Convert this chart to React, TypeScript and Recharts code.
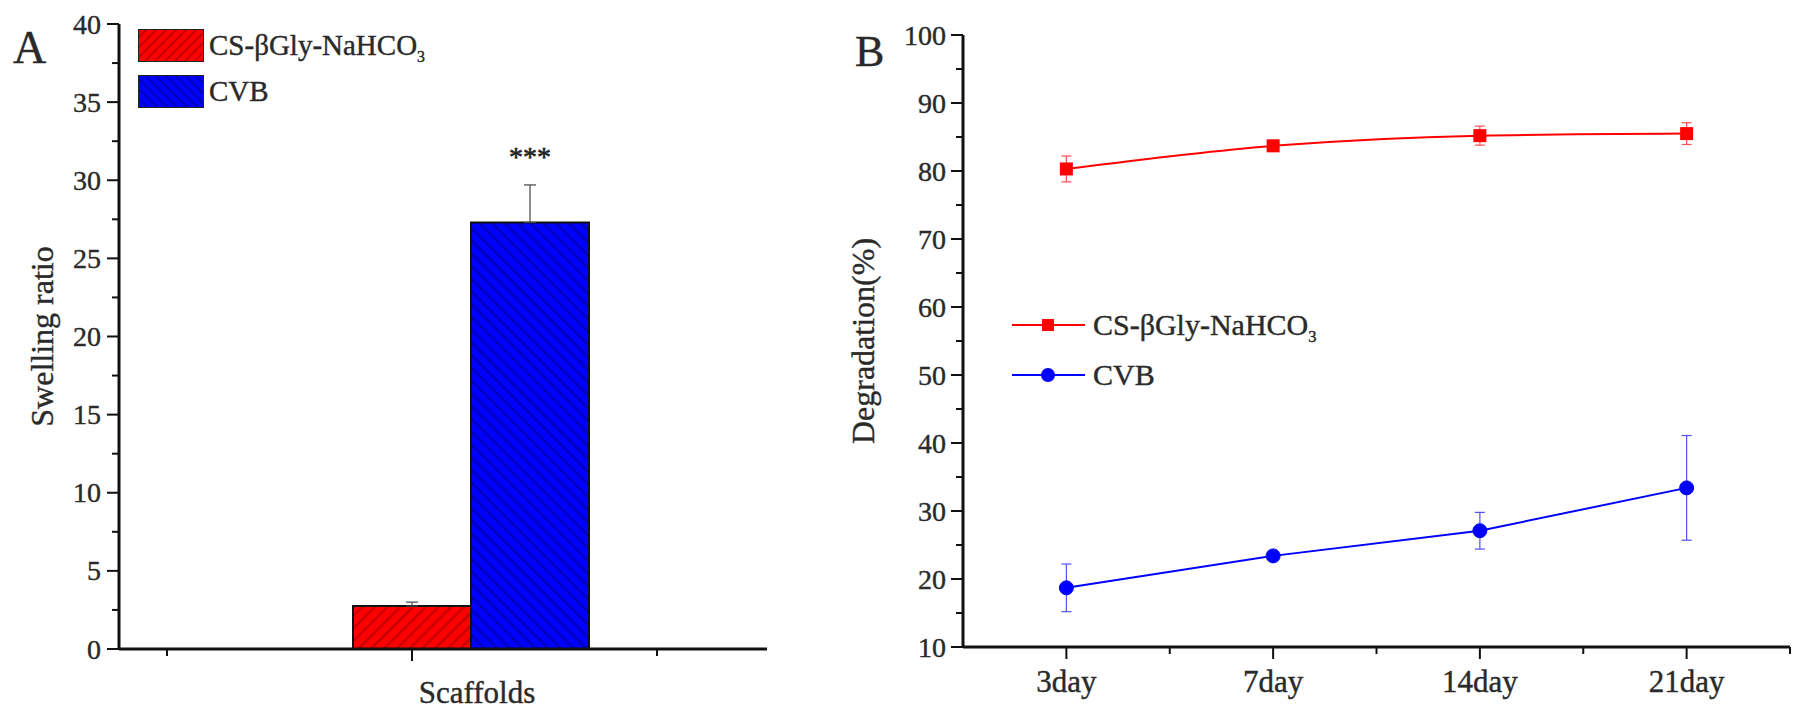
import React from 'react';
import {
  BarChart,
  Bar,
  XAxis,
  YAxis,
  ErrorBar,
  LabelList,
  Legend,
  LineChart,
  Line,
} from 'recharts';

// ---------- Panel A data ----------
const scaffoldCategories = ['Scaffolds'];
const swellingCS = [2.75];
const swellingCSErr = [0.25];
const swellingCVB = [27.3];
const swellingCVBErr = [2.4];
const swellingSig = ['***'];
const swellingTicks = [0, 2.5, 5, 7.5, 10, 12.5, 15, 17.5, 20, 22.5, 25, 27.5, 30, 32.5, 35, 37.5, 40];

// ---------- Panel B data ----------
const dayLabels = ['3day', '7day', '14day', '21day'];
const degCS = [80.3, 83.7, 85.2, 85.5];
const degCSErr = [1.9, 0.8, 1.4, 1.6];
const degCVB = [18.7, 23.4, 27.1, 33.4];
const degCVBErr = [3.5, 0.5, 2.7, 7.7];
const degTicks = [10, 15, 20, 25, 30, 35, 40, 45, 50, 55, 60, 65, 70, 75, 80, 85, 90, 95, 100];

const seriesNames = ['CS-\u03B2Gly-NaHCO', 'CVB'];

const swellingData = scaffoldCategories.map((name, i) => ({
  name,
  cs: swellingCS[i],
  csErr: [0, swellingCSErr[i]],
  cvb: swellingCVB[i],
  cvbErr: [0, swellingCVBErr[i]],
  sig: swellingSig[i],
}));

const degData = dayLabels.map((day, i) => ({
  day,
  pos: i + 1,
  cs: degCS[i],
  csErr: degCSErr[i],
  cvb: degCVB[i],
  cvbErr: degCVBErr[i],
}));
const degXTicks = dayLabels.flatMap((_, i) => [i + 1, i + 1.5]);

// ---------- styles ----------
const FONT = '"Liberation Serif", "Times New Roman", serif';
const TEXT = '#2a2a2a';
const AXIS = '#111';
const BAR_SIZE = 118;
const LEFT_MINOR_STEP = 245;
const txt = { fontFamily: FONT, fill: TEXT, stroke: TEXT, strokeWidth: 0.4 };

const YTickLeft = (props: any) => {
  const { x, y, payload } = props;
  const v = payload.value;
  const major = v % 5 === 0;
  return (
    <g>
      <line x1={x - (major ? 12 : 7)} y1={y} x2={x} y2={y} stroke={AXIS} strokeWidth={2} />
      {major && (
        <text x={x - 18} y={y} textAnchor="end" dominantBaseline="central" fontSize={28} {...txt}>
          {v}
        </text>
      )}
    </g>
  );
};

const YTickRight = (props: any) => {
  const { x, y, payload } = props;
  const v = payload.value;
  const major = v % 10 === 0;
  return (
    <g>
      <line x1={x - (major ? 12 : 7)} y1={y} x2={x} y2={y} stroke={AXIS} strokeWidth={2} />
      {major && (
        <text x={x - 17} y={y} textAnchor="end" dominantBaseline="central" fontSize={28} {...txt}>
          {v}
        </text>
      )}
    </g>
  );
};

const XTickLeft = (props: any) => {
  const { x, y, payload } = props;
  const majorX = x - BAR_SIZE / 2;
  return (
    <g>
      <line x1={majorX} x2={majorX} y1={y} y2={y + 12} stroke={AXIS} strokeWidth={2} />
      {[-1, 1].map((k) => (
        <line key={k} x1={majorX + k * LEFT_MINOR_STEP} x2={majorX + k * LEFT_MINOR_STEP} y1={y} y2={y + 7} stroke={AXIS} strokeWidth={2} />
      ))}
      <text x={x + 6} y={y + 54} textAnchor="middle" fontSize={31} {...txt}>
        {payload.value}
      </text>
    </g>
  );
};

const XTickRight = (props: any) => {
  const { x, y, payload } = props;
  const v = payload.value;
  const major = Number.isInteger(v);
  return (
    <g>
      <line x1={x} x2={x} y1={y} y2={y + (major ? 12 : 7)} stroke={AXIS} strokeWidth={2} />
      {major && (
        <text x={x} y={y + 45} textAnchor="middle" fontSize={31} {...txt}>
          {dayLabels[v - 1]}
        </text>
      )}
    </g>
  );
};

const Sub3 = () => (
  <span style={{ fontSize: '0.55em', position: 'relative', top: '0.45em' }}>3</span>
);

const htmlText = { fontFamily: FONT, color: TEXT, WebkitTextStroke: '0.4px #2a2a2a' } as any;

const LegendLeft = () => (
  <div style={{ ...htmlText, fontSize: 29 }}>
    {[
      { bg: 'repeating-linear-gradient(-45deg, #ff0000 0px, #ff0000 5px, #c40000 5px, #c40000 7px)', label: 0 },
      { bg: 'repeating-linear-gradient(45deg, #0000ff 0px, #0000ff 5px, #0000b8 5px, #0000b8 7px)', label: 1 },
    ].map((r) => (
      <div key={r.label} style={{ display: 'flex', alignItems: 'center', height: 46, whiteSpace: 'nowrap' }}>
        <div style={{ width: 64, height: 31, background: r.bg, border: '1.5px solid #222', marginRight: 5 }} />
        <span>
          {seriesNames[r.label]}
          {r.label === 0 && <Sub3 />}
        </span>
      </div>
    ))}
  </div>
);

const LegendRight = () => (
  <div style={{ ...htmlText, fontSize: 30 }}>
    {[0, 1].map((i) => (
      <div key={i} style={{ display: 'flex', alignItems: 'center', height: 50, whiteSpace: 'nowrap' }}>
        <svg width={73} height={20} style={{ marginRight: 8 }}>
          <line x1={0} x2={73} y1={10} y2={10} stroke={i === 0 ? '#ff0000' : '#0000ff'} strokeWidth={2} />
          {i === 0 ? (
            <rect x={30} y={4} width={12} height={12} fill="#ff0000" />
          ) : (
            <circle cx={36} cy={10} r={7} fill="#0000ff" />
          )}
        </svg>
        <span>
          {seriesNames[i]}
          {i === 0 && <Sub3 />}
        </span>
      </div>
    ))}
  </div>
);

const YTitle = (text: string, dx: number) => (props: any) => {
  const vb = props.viewBox || {};
  const cx = (vb.x || 0) + dx;
  const cy = (vb.y || 0) + (vb.height || 0) / 2;
  return (
    <text
      transform={`translate(${cx}, ${cy}) rotate(-90)`}
      textAnchor="middle"
      dominantBaseline="central"
      fontSize={32}
      {...txt}
    >
      {text}
    </text>
  );
};

const SquareDot = (p: any) => {
  if (p.cx == null || p.cy == null) return <g key={p.index} />;
  return <rect key={p.index} x={p.cx - 6.5} y={p.cy - 6.5} width={13} height={13} fill="#ff0000" />;
};

export default function App() {
  return (
    <div style={{ position: 'absolute', left: 0, top: 0, width: 1800, height: 713, background: '#fff', overflow: 'hidden' }}>
      <div style={{ position: 'absolute', left: 0, top: 0 }}>
        <BarChart
          width={800}
          height={713}
          data={swellingData}
          margin={{ top: 24, right: 33, left: 0, bottom: 0 }}
          barGap={0}
        >
          <defs>
            <pattern id="hatchRed" patternUnits="userSpaceOnUse" width={9} height={9} patternTransform="rotate(45)">
              <rect width={9} height={9} fill="#ff0000" />
              <rect width={2.4} height={9} fill="#c40000" />
            </pattern>
            <pattern id="hatchBlue" patternUnits="userSpaceOnUse" width={9} height={9} patternTransform="rotate(-45)">
              <rect width={9} height={9} fill="#0000ff" />
              <rect width={2.4} height={9} fill="#0000b8" />
            </pattern>
          </defs>
          <XAxis
            dataKey="name"
            type="category"
            padding={{ left: 100, right: 44 }}
            height={64}
            tickSize={0}
            tickMargin={0}
            interval={0}
            axisLine={{ stroke: AXIS, strokeWidth: 3 }}
            tick={XTickLeft}
          />
          <YAxis
            domain={[0, 40]}
            ticks={swellingTicks}
            interval={0}
            width={119}
            tickSize={0}
            tickMargin={0}
            axisLine={{ stroke: AXIS, strokeWidth: 3 }}
            tick={YTickLeft}
            label={{ content: YTitle('Swelling ratio', 42) }}
          />
          <Legend
            layout="vertical"
            align="center"
            verticalAlign="middle"
            wrapperStyle={{ left: 138, top: 22, width: 400, height: 92 }}
            content={LegendLeft}
          />
          <Bar dataKey="cs" name={seriesNames[0]} fill="url(#hatchRed)" stroke="#111" strokeWidth={2} barSize={BAR_SIZE} isAnimationActive={false}>
            <ErrorBar dataKey="csErr" width={6} stroke="#444" strokeWidth={1.2} />
          </Bar>
          <Bar dataKey="cvb" name={seriesNames[1]} fill="url(#hatchBlue)" stroke="#111" strokeWidth={2} barSize={BAR_SIZE} isAnimationActive={false}>
            <ErrorBar dataKey="cvbErr" width={6} stroke="#444" strokeWidth={1.2} />
            <LabelList dataKey="sig" position="top" offset={56} fontSize={28} fontFamily={FONT} fill="#222" stroke="#222" strokeWidth={0.6} />
          </Bar>
        </BarChart>
      </div>

      <div style={{ position: 'absolute', left: 800, top: 0 }}>
        <LineChart width={1000} height={713} data={degData} margin={{ top: 35, right: 10, left: 0, bottom: 0 }}>
          <XAxis
            dataKey="pos"
            type="number"
            domain={[0.5, 4.5]}
            ticks={degXTicks}
            interval={0}
            height={66}
            tickSize={0}
            tickMargin={0}
            axisLine={{ stroke: AXIS, strokeWidth: 3 }}
            tick={XTickRight}
          />
          <YAxis
            domain={[10, 100]}
            ticks={degTicks}
            interval={0}
            width={163}
            tickSize={0}
            tickMargin={0}
            axisLine={{ stroke: AXIS, strokeWidth: 3 }}
            tick={YTickRight}
            label={{ content: YTitle('Degradation(%)', 63) }}
          />
          <Legend
            layout="vertical"
            align="center"
            verticalAlign="middle"
            wrapperStyle={{ left: 212, top: 300, width: 400, height: 100 }}
            content={LegendRight}
          />
          <Line
            type="monotone"
            dataKey="cs"
            name={seriesNames[0]}
            stroke="#ff0000"
            strokeWidth={2}
            dot={SquareDot}
            activeDot={false}
            isAnimationActive={false}
          >
            <ErrorBar dataKey="csErr" width={5} stroke="#ff5050" strokeWidth={1.2} />
          </Line>
          <Line
            type="linear"
            dataKey="cvb"
            name={seriesNames[1]}
            stroke="#0000ff"
            strokeWidth={2}
            dot={{ r: 7, fill: '#0000ff', stroke: '#0000ff', strokeWidth: 1 }}
            activeDot={false}
            isAnimationActive={false}
          >
            <ErrorBar dataKey="cvbErr" width={5} stroke="#5050ff" strokeWidth={1.2} />
          </Line>
        </LineChart>
      </div>

      <svg width={1800} height={713} style={{ position: 'absolute', left: 0, top: 0, pointerEvents: 'none' }}>
        <text x={13} y={63} fontSize={46} {...txt}>A</text>
        <text x={855} y={66} fontSize={44} {...txt}>B</text>
      </svg>
    </div>
  );
}
